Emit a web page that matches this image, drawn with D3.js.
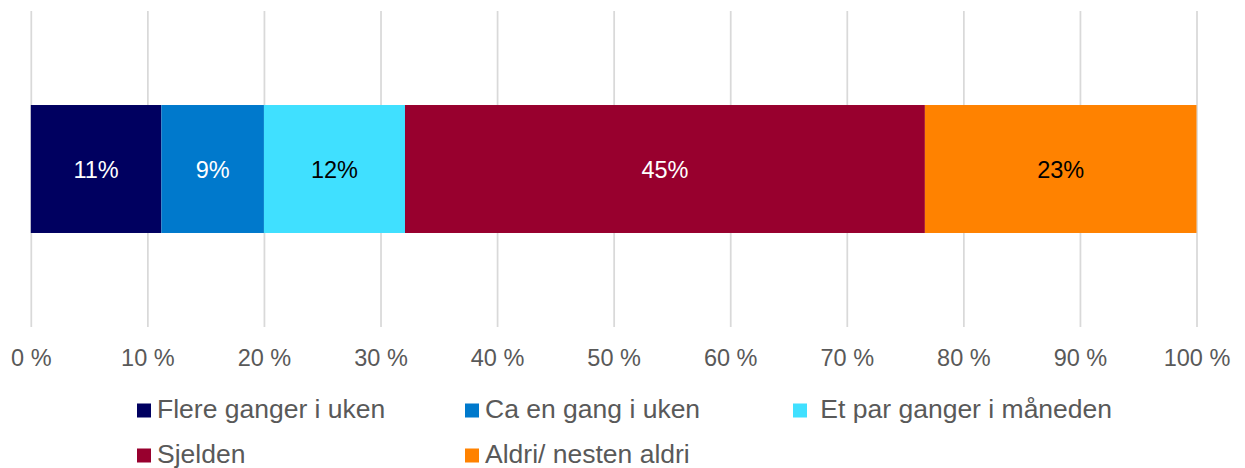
<!DOCTYPE html>
<html>
<head>
<meta charset="utf-8">
<script src="https://cdn.jsdelivr.net/npm/d3@7"></script>
<style>
  body { margin: 0; background: #fff; }
  svg { display: block; font-family: "Liberation Sans", Arial, sans-serif; }
</style>
</head>
<body>
<div id="chart"></div>
<script>
// data
const categories = ['Alle'];
const seriesNames = ['Flere ganger i uken', 'Ca en gang i uken', ' Et par ganger i måneden', 'Sjelden', 'Aldri/ nesten aldri'];
const seriesValues = [11.2, 8.8, 12.1, 44.6, 23.3];
const seriesLabels = ['11%', '9%', '12%', '45%', '23%'];
const seriesColors = ['#000060', '#0079CC', '#40E0FF', '#98002E', '#FF8200'];
const labelColors = ['#ffffff', '#ffffff', '#000000', '#ffffff', '#000000'];
const tickValues = [0, 10, 20, 30, 40, 50, 60, 70, 80, 90, 100];

const W = 1245, H = 468;
const plot = { left: 30.8, right: 1196.5, top: 11, bottom: 327 };

const svg = d3.select('#chart').append('svg')
  .attr('width', W)
  .attr('height', H);

//** scales
const x = d3.scaleLinear().domain([0, 100]).range([plot.left, plot.right]);
const y = d3.scaleBand().domain(categories).range([plot.top, plot.bottom])
  .paddingInner(0.4235).paddingOuter(0.4235);

//** gridlines + tick labels
const xAxis = d3.axisBottom(x)
  .tickValues(tickValues)
  .tickSize(-(plot.bottom - plot.top))
  .tickFormat(d => d + ' %');

const gx = svg.append('g')
  .attr('transform', 'translate(0,' + plot.bottom + ')')
  .call(xAxis);
gx.select('.domain').remove();
gx.selectAll('.tick line')
  .attr('stroke', '#D9D9D9')
  .attr('stroke-width', 1.75);
gx.selectAll('.tick text')
  .attr('fill', '#595959')
  .attr('font-size', '23.5px')
  .attr('font-family', '"Liberation Sans", Arial, sans-serif')
  .attr('y', 39)
  .attr('dy', 0);

//** stacked segments
const segs = [];
let acc = 0;
seriesValues.forEach((v, i) => {
  segs.push({ name: seriesNames[i], x0: acc, x1: acc + v, i: i });
  acc += v;
});

const gBars = svg.append('g');
categories.forEach(cat => {
  gBars.selectAll('rect.seg')
    .data(segs)
    .enter().append('rect')
    .attr('class', 'seg')
    .attr('x', d => x(d.x0))
    .attr('y', y(cat))
    .attr('width', d => x(d.x1) - x(d.x0))
    .attr('height', y.bandwidth())
    .attr('fill', d => seriesColors[d.i]);

  gBars.selectAll('text.lbl')
    .data(segs)
    .enter().append('text')
    .attr('class', 'lbl')
    .attr('x', d => (x(d.x0) + x(d.x1)) / 2)
    .attr('y', y(cat) + y.bandwidth() / 2 + 9)
    .attr('text-anchor', 'middle')
    .attr('font-size', '23.5px')
    .attr('fill', d => labelColors[d.i])
    .text(d => seriesLabels[d.i]);
});

//** legend
const legendCols = [137, 465, 793];
const legendRows = [418, 463];
const gLeg = svg.append('g');
seriesNames.forEach((name, i) => {
  const lx = legendCols[i % 3];
  const ly = legendRows[Math.floor(i / 3)];
  const item = gLeg.append('g').attr('transform', 'translate(' + lx + ',' + ly + ')');
  item.append('rect')
    .attr('x', 0)
    .attr('y', -14.5)
    .attr('width', 14)
    .attr('height', 14)
    .attr('fill', seriesColors[i]);
  item.append('text')
    .attr('x', 20)
    .attr('y', 0)
    .attr('font-size', '26.5px')
    .attr('fill', '#595959')
    .style('white-space', 'pre')
    .text(name);
});
</script>
</body>
</html>
